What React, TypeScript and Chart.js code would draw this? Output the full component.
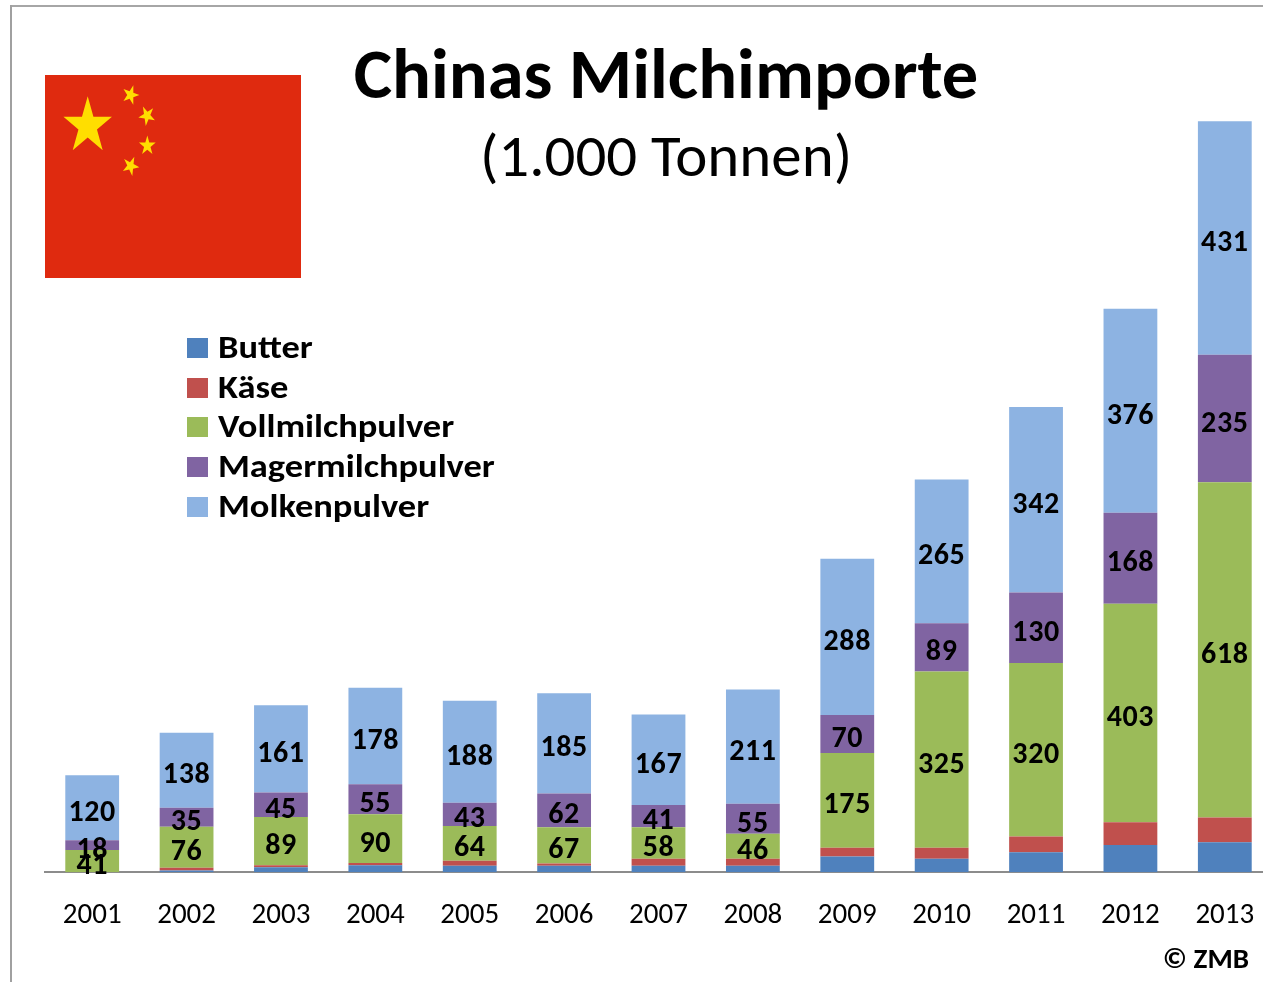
import React, { useEffect, useRef } from "react";
import { Chart, registerables } from "chart.js";

Chart.register(...registerables);

const years = ["2001","2002","2003","2004","2005","2006","2007","2008","2009","2010","2011","2012","2013"];
const butter = [0,3,9,13,12,12,12,12,29,25,37,50,55];
const kaese = [0,5,4,4,9,4,13,13,16,20,29,42,46];
const vollmilch = [41,76,89,90,64,67,58,46,175,325,320,403,618];
const magermilch = [18,35,45,55,43,62,41,55,70,89,130,168,235];
const molken = [120,138,161,178,188,185,167,211,288,265,342,376,431];

const seriesNames = ["Butter","Käse","Vollmilchpulver","Magermilchpulver","Molkenpulver"];
const seriesValues = [butter,kaese,vollmilch,magermilch,molken];
const seriesColors = ["#4F81BD","#C0504D","#9BBB59","#8064A2","#8DB3E2"];
const labelledSeries = [2,3,4];

const FONT = "Carlito, Lato, sans-serif";

const valueLabels = {
  id: "valueLabels",
  afterDatasetsDraw(chart: any) {
    const ctx = chart.ctx;
    ctx.save();
    ctx.font = `700 30px ${FONT}`;
    (ctx as any).letterSpacing = "0.6px";
    ctx.fillStyle = "#000";
    ctx.textAlign = "center";
    ctx.textBaseline = "middle";
    labelledSeries.forEach((di) => {
      chart.getDatasetMeta(di).data.forEach((bar: any, i: number) => {
        const p = bar.getProps(["x", "y", "base"], true);
        ctx.fillText(String(seriesValues[di][i]), p.x, (p.y + p.base) / 2 + 5.5);
      });
    });
    ctx.restore();
  },
};

function starPoints(cx: number, cy: number, r: number, rot: number) {
  const stretch = 1.17;
  const pts: string[] = [];
  for (let i = 0; i < 10; i++) {
    const rad = i % 2 === 0 ? r : r * 0.382;
    const a = rot - Math.PI / 2 + (i * Math.PI) / 5;
    pts.push(`${cx + rad * Math.cos(a)},${cy + stretch * rad * Math.sin(a)}`);
  }
  return pts.join(" ");
}

const bigStar = { x: 42.7, y: 51, r: 25.5 };
const smallStars = [
  { x: 85.6, y: 20, r: 8.8 },
  { x: 102, y: 40.7, r: 8.8 },
  { x: 102.3, y: 70.7, r: 8.8 },
  { x: 85.6, y: 91, r: 8.8 },
];

export default function App() {
  const ref = useRef<HTMLCanvasElement>(null);
  useEffect(() => {
    const chart = new Chart(ref.current!, {
      type: "bar",
      data: {
        labels: years,
        datasets: seriesNames.map((name, i) => ({
          label: name,
          data: seriesValues[i],
          backgroundColor: seriesColors[i],
          barPercentage: 0.57,
          categoryPercentage: 1,
        })),
      },
      plugins: [valueLabels],
      options: {
        animation: false,
        responsive: false,
        layout: { padding: { left: 45, right: 18, top: 113, bottom: 22 } },
        plugins: { legend: { display: false }, title: { display: false }, tooltip: { enabled: false } },
        scales: {
          x: {
            stacked: true,
            grid: { display: false, drawTicks: false },
            border: { color: "#8C8C8C", width: 2 },
            ticks: { color: "#000", font: { family: FONT, size: 29 }, padding: 26.5, maxRotation: 0, autoSkip: false },
          },
          y: { stacked: true, display: false, min: 0, max: 1400 },
        },
      },
    });
    return () => chart.destroy();
  }, []);

  const abs = { position: "absolute" as const };
  return (
    <div style={{ ...abs, left: 0, top: 0, width: 1263, height: 982, overflow: "hidden", background: "#fff", fontFamily: FONT, color: "#000" }}>
      <canvas ref={ref} width={1290} height={982} style={{ ...abs, left: 0, top: 0, display: "block" }} />
      <div style={{ ...abs, left: 10, top: 5, width: 1253, height: 2, background: "#A6A6A6" }} />
      <div style={{ ...abs, left: 10, top: 5, width: 2, height: 977, background: "#A0A0A0" }} />
      <svg style={{ ...abs, left: 45, top: 75 }} width={256} height={203}>
        <rect width={256} height={203} fill="#DF2A0F" />
        <polygon points={starPoints(bigStar.x, bigStar.y, bigStar.r, 0)} fill="#FFDE00" />
        {smallStars.map((s, i) => (
          <polygon
            key={i}
            points={starPoints(s.x, s.y, s.r, Math.atan2(bigStar.y - s.y, bigStar.x - s.x) + Math.PI / 2)}
            fill="#FFDE00"
          />
        ))}
      </svg>
      <div style={{ ...abs, left: 266, width: 800, top: 34, textAlign: "center", fontWeight: 700, fontSize: 70, lineHeight: "80px", whiteSpace: "nowrap", transform: "scaleX(1.036)" }}>
        Chinas Milchimporte
      </div>
      <div style={{ ...abs, left: 266, width: 800, top: 121, textAlign: "center", fontSize: 60, lineHeight: "70px", whiteSpace: "nowrap", transform: "scaleX(1.015)" }}>
        (1.000 Tonnen)
      </div>
      {seriesNames.map((name, i) => (
        <div key={name}>
          <div style={{ ...abs, left: 187, top: 338 + i * 39.7, width: 21, height: 20, background: seriesColors[i] }} />
          <div style={{ ...abs, left: 218, top: 327 + i * 39.7, fontWeight: 700, fontSize: 33, lineHeight: "40px", whiteSpace: "nowrap", transform: "scaleX(1.105)", transformOrigin: "left center" }}>
            {name}
          </div>
        </div>
      ))}
      <div style={{ ...abs, right: 14, top: 942, fontWeight: 700, fontSize: 29, lineHeight: "32px", whiteSpace: "nowrap" }}>© ZMB</div>
    </div>
  );
}
